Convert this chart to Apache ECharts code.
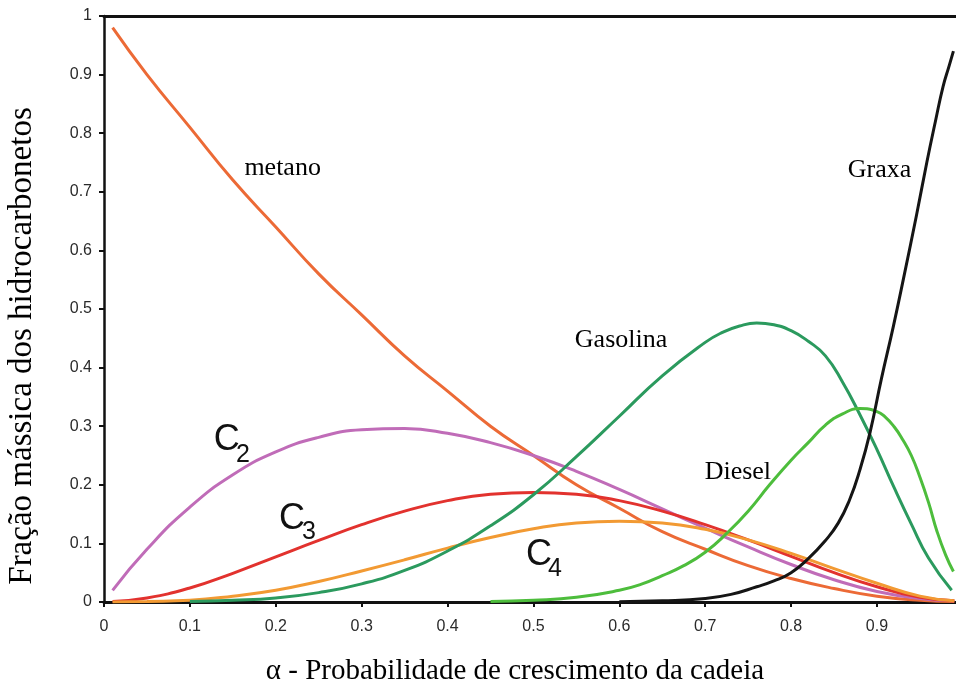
<!DOCTYPE html>
<html>
<head>
<meta charset="utf-8">
<script src="https://cdn.jsdelivr.net/npm/echarts@6/dist/echarts.min.js"></script>
<style>
  html, body { margin: 0; padding: 0; background: #fff; }
  #chart { width: 956px; height: 696px; }
</style>
</head>
<body>
<div id="chart"></div>
<script>
// Anderson–Schulz–Flory product distribution vs. chain growth probability
const alpha = [0.01, 0.05, 0.10, 0.15, 0.20, 0.25, 0.30, 0.35, 0.40, 0.45, 0.50,
               0.55, 0.60, 0.65, 0.70, 0.75, 0.80, 0.85, 0.90, 0.95, 0.99];
const metano = [0.98, 0.90, 0.81, 0.72, 0.64, 0.56, 0.49, 0.42, 0.36, 0.30, 0.25,
                0.20, 0.16, 0.12, 0.09, 0.062, 0.04, 0.023, 0.01, 0.003, 0.001];
const c2 = [0.02, 0.09, 0.162, 0.217, 0.256, 0.281, 0.294, 0.296, 0.288, 0.272, 0.25,
            0.223, 0.192, 0.159, 0.126, 0.094, 0.064, 0.038, 0.018, 0.006, 0.002];
const c3 = [0.001, 0.007, 0.024, 0.049, 0.077, 0.105, 0.132, 0.155, 0.173, 0.184, 0.187,
            0.184, 0.173, 0.155, 0.132, 0.106, 0.078, 0.05, 0.026, 0.008, 0.002];
const c4 = [0, 0.001, 0.003, 0.01, 0.02, 0.035, 0.053, 0.072, 0.092, 0.11, 0.125,
            0.135, 0.138, 0.135, 0.124, 0.106, 0.083, 0.057, 0.032, 0.01, 0.002];

const gasolinaX = [0.10, 0.15, 0.20, 0.25, 0.30, 0.35, 0.40, 0.45, 0.50, 0.55, 0.60, 0.65,
                   0.70, 0.72, 0.74, 0.76, 0.78, 0.80, 0.82, 0.84, 0.86, 0.88, 0.90,
                   0.92, 0.94, 0.96, 0.987];
const gasolina = [0.001, 0.003, 0.007, 0.016, 0.031, 0.054, 0.087, 0.13, 0.183, 0.248, 0.317, 0.386,
                  0.443, 0.46, 0.471, 0.476, 0.473, 0.463, 0.445, 0.42, 0.375, 0.32, 0.26,
                  0.195, 0.133, 0.075, 0.02];

const dieselX = [0.45, 0.50, 0.55, 0.60, 0.625, 0.65, 0.675, 0.70, 0.725, 0.75, 0.775,
                 0.80, 0.82, 0.84, 0.86, 0.88, 0.90, 0.91, 0.92, 0.93, 0.94, 0.95,
                 0.96, 0.97, 0.98, 0.989];
const diesel = [0.001, 0.003, 0.008, 0.02, 0.03, 0.045, 0.062, 0.085, 0.117, 0.155, 0.2,
                0.242, 0.272, 0.302, 0.321, 0.33, 0.325, 0.315, 0.299, 0.277, 0.25, 0.213,
                0.17, 0.12, 0.08, 0.052];

const graxaX = [0.60, 0.65, 0.70, 0.73, 0.76, 0.78, 0.80, 0.82, 0.84, 0.855, 0.868, 0.88,
                0.892, 0.905, 0.919, 0.932, 0.946, 0.958, 0.968, 0.977, 0.984, 0.989];
const graxa = [0.0006, 0.002, 0.006, 0.013, 0.026, 0.036, 0.05, 0.074, 0.105, 0.135, 0.174, 0.225,
               0.29, 0.38, 0.47, 0.56, 0.66, 0.75, 0.82, 0.88, 0.915, 0.94];

const xTicks = [0, 0.1, 0.2, 0.3, 0.4, 0.5, 0.6, 0.7, 0.8, 0.9];

// Curve captions, anchored in data coordinates
const captions = [
  { text: 'metano',   at: [0.208, 0.741] },
  { text: 'Graxa',    at: [0.903, 0.737] },
  { text: 'Gasolina', at: [0.602, 0.447] },
  { text: 'Diesel',   at: [0.738, 0.222] }
];
const carbonLabels = [
  { main: 'C', sub: '2', at: [0.143, 0.2765], subAt: [0.1618, 0.2500] },
  { main: 'C', sub: '3', at: [0.219, 0.1416], subAt: [0.2386, 0.1190] },
  { main: 'C', sub: '4', at: [0.5064, 0.0802], subAt: [0.525, 0.056] }
];

const zip = (xs, ys) => xs.map((x, i) => [x, ys[i]]);

const chart = echarts.init(document.getElementById('chart'), null, { renderer: 'canvas' });

function curve(name, xs, ys, color, width) {
  return {
    name, type: 'line', data: zip(xs, ys), smooth: 0.5, showSymbol: false,
    lineStyle: { color, width: width || 3 }, z: 3, animation: false
  };
}

const tickFont = { fontFamily: 'Liberation Sans, Arial, sans-serif', fontSize: 16, color: '#2a2a2a' };

chart.setOption({
  animation: false,
  grid: { left: 104, right: 0, top: 16, bottom: 94 },
  xAxis: [{
    type: 'value', min: 0, max: 0.992, interval: 0.1,
    axisLine: { show: true, lineStyle: { color: '#111', width: 3 } },
    axisTick: { show: true, length: 5, lineStyle: { color: '#111', width: 2 }, customValues: xTicks },
    axisLabel: Object.assign({ margin: 17, customValues: xTicks, formatter: v => String(+v.toFixed(1)) }, tickFont),
    splitLine: { show: false }
  }, {
    type: 'value', position: 'top', min: 0, max: 0.992,
    axisLine: { show: true, lineStyle: { color: '#111', width: 3 } },
    axisTick: { show: false }, axisLabel: { show: false }, splitLine: { show: false }
  }],
  yAxis: {
    type: 'value', min: 0, max: 1, interval: 0.1,
    axisLine: { show: true, lineStyle: { color: '#111', width: 2.5 } },
    axisTick: { show: true, length: 5, lineStyle: { color: '#111', width: 2 } },
    axisLabel: Object.assign({ margin: 12 }, tickFont),
    splitLine: { show: false }
  },
  series: [
    curve('metano', alpha, metano, '#EC6A36'),
    curve('C2', alpha, c2, '#C06CB8'),
    curve('C3', alpha, c3, '#E2322E'),
    curve('C4', alpha, c4, '#F29A33'),
    curve('Gasolina', gasolinaX, gasolina, '#2B9A5E'),
    curve('Diesel', dieselX, diesel, '#4DBD3C'),
    curve('Graxa', graxaX, graxa, '#151515')
  ]
});

function place(at) { return chart.convertToPixel({ gridIndex: 0 }, at); }

const serif = 'Liberation Serif, "Times New Roman", serif';
const narrow = '"Liberation Sans Narrow", "Liberation Sans", Arial, sans-serif';
const elements = [];

captions.forEach(c => {
  const p = place(c.at);
  elements.push({
    type: 'text', x: p[0], y: p[1], z: 10,
    style: { text: c.text, font: '26px ' + serif, fill: '#000', textAlign: 'center', textVerticalAlign: 'middle' }
  });
});

carbonLabels.forEach(c => {
  const p = place(c.at), q = place(c.subAt);
  elements.push({
    type: 'text', x: p[0], y: p[1], z: 10,
    style: { text: c.main, font: '36px ' + narrow, fill: '#111', textAlign: 'center', textVerticalAlign: 'middle' }
  });
  elements.push({
    type: 'text', x: q[0], y: q[1], z: 10,
    style: { text: c.sub, font: '25px ' + narrow, fill: '#111', textAlign: 'center', textVerticalAlign: 'middle' }
  });
});

// Axis titles
elements.push({
  type: 'text', x: 515, y: 671, z: 10,
  style: { text: 'α - Probabilidade de crescimento da cadeia', font: '29px ' + serif, fill: '#000',
           textAlign: 'center', textVerticalAlign: 'middle' }
});
elements.push({
  type: 'text', x: 22, y: 346, rotation: Math.PI / 2, z: 10,
  style: { text: 'Fração mássica dos hidrocarbonetos', font: '33px ' + serif, fill: '#000',
           textAlign: 'center', textVerticalAlign: 'middle' }
});

chart.setOption({ graphic: { elements } });
</script>
</body>
</html>
